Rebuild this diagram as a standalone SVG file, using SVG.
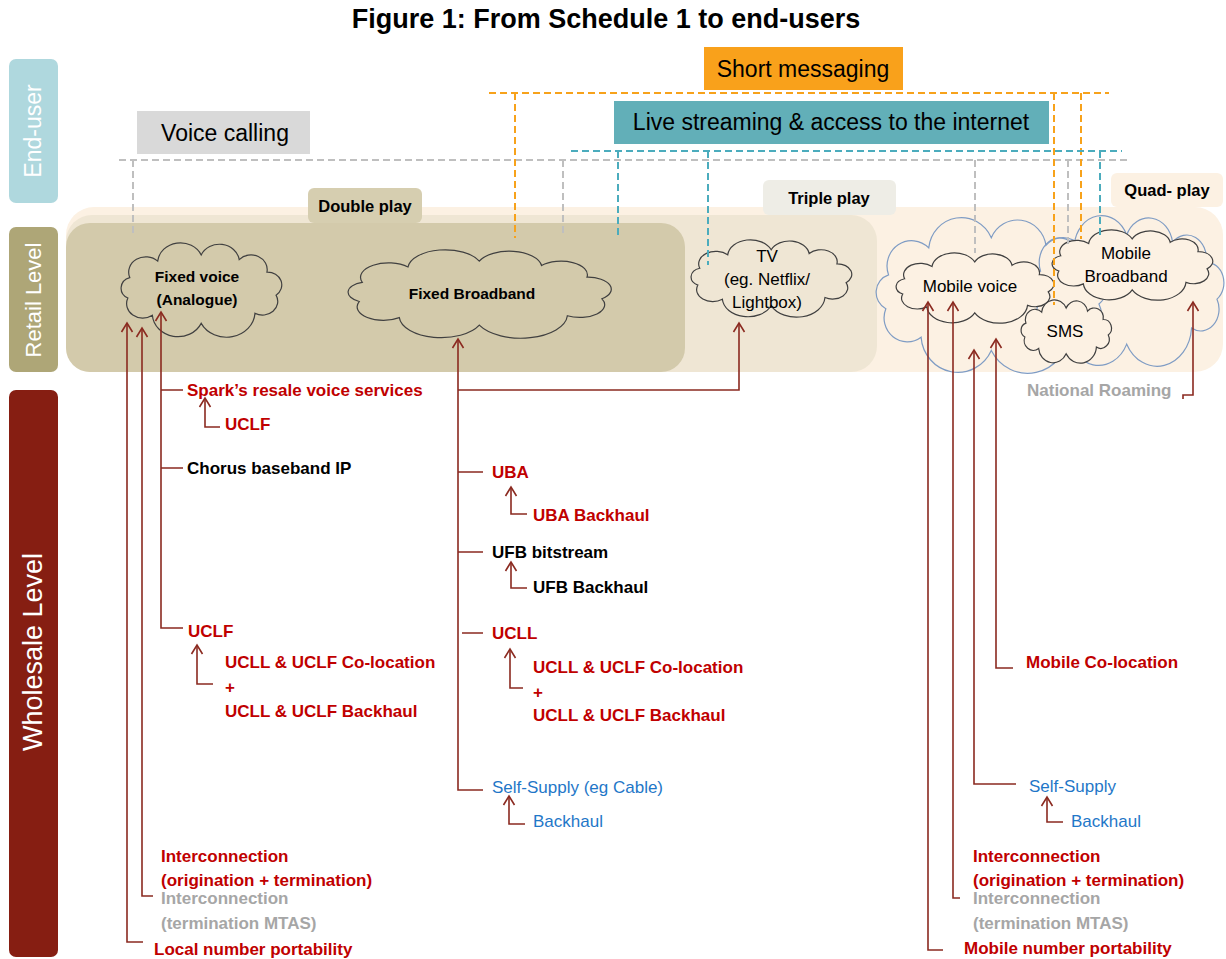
<svg xmlns="http://www.w3.org/2000/svg" width="1226" height="959" viewBox="0 0 1226 959">
<style>
text{font-family:"Liberation Sans",Arial,sans-serif;dominant-baseline:central}
.red{fill:#c00000;font-weight:bold;font-size:17px}
.blk{fill:#000;font-weight:bold;font-size:17px}
.blue{fill:#1f77c8;font-size:17px}
.gry{fill:#a6a6a6;font-weight:bold;font-size:17px}
.hdr{fill:#000;font-size:23px;text-anchor:middle}
.lbl{fill:#000;font-size:16.5px;font-weight:bold;text-anchor:middle}
.side{fill:#fff;text-anchor:middle}
.ct{fill:#000;font-size:17px;text-anchor:middle}
.ctb{fill:#000;font-size:15.5px;font-weight:bold;text-anchor:middle}
.cb{stroke:#404040;stroke-width:1.2}
.cblue{stroke:#7f9cc4;stroke-width:1.2;fill:none}
.conn{stroke:#8b2a20;stroke-width:1.6;fill:none}
.dg{stroke:#bfbfbf;stroke-width:2;stroke-dasharray:7 4;fill:none}
.do{stroke:#f7a21b;stroke-width:2;stroke-dasharray:7 4;fill:none}
.dt{stroke:#4bacbd;stroke-width:2;stroke-dasharray:7 4;fill:none}
</style>
<defs>
<path id="cloud" vector-effect="non-scaling-stroke" d="M12.4,23.2 A9,9 0 0 1 27.1,13.6 A12,12 0 0 1 50,10 A10.5,10.5 0 0 1 70,12.7 A8.5,8.5 0 0 1 84.6,20 A7.5,7.5 0 0 1 89.4,33.5 A8,8 0 0 1 78.3,44.1 A15,15 0 0 1 50,50 A13.5,13.5 0 0 1 24.3,45.3 A8.5,8.5 0 0 1 11.4,35.2 A6.5,6.5 0 0 1 12.4,23.2 Z"/>
<marker id="ah" markerUnits="userSpaceOnUse" viewBox="-10 -7 12 14" refX="0" refY="0" markerWidth="12" markerHeight="14" orient="auto" overflow="visible">
<path d="M-9,-5.5 L0,0 L-9,5.5" fill="none" stroke="#8b2a20" stroke-width="1.6"/>
</marker>
</defs>
<rect width="1226" height="959" fill="#fff"/>
<text x="606" y="19" text-anchor="middle" style="font-size:27px;font-weight:bold;fill:#000">Figure 1: From Schedule 1 to end-users</text>

<g id="bar-enduser"><rect x="9" y="59" width="49" height="144" rx="7" fill="#afd8de"/><text class="side" x="33" y="131" transform="rotate(-90 33 131)" style="font-size:23px">End-user</text></g>
<g id="bar-retail"><rect x="9" y="227" width="49" height="145" rx="7" fill="#aea677"/><text class="side" x="33" y="300" transform="rotate(-90 33 300)" style="font-size:22px">Retail Level</text></g>
<g id="bar-wholesale"><rect x="9" y="390" width="49" height="567" rx="7" fill="#861e12"/><text class="side" x="33" y="652" transform="rotate(-90 33 652)" style="font-size:27px">Wholesale Level</text></g>

<g id="panel-quad"><rect x="66" y="207" width="1157" height="165" rx="28" fill="#fcf1e3"/></g>
<g id="panel-triple"><rect x="66" y="215" width="811" height="157" rx="26" fill="#efe6d4"/></g>
<g id="panel-double"><rect x="66" y="223" width="619" height="149" rx="24" fill="#d3caab"/></g>
<g id="label-double"><rect x="308" y="188" width="114" height="35" rx="6" fill="#d6ceb0"/><text class="lbl" x="365" y="206">Double play</text></g>
<g id="label-triple"><rect x="763" y="180" width="133" height="35" rx="6" fill="#eeede6"/><text class="lbl" x="829" y="198">Triple play</text></g>
<g id="label-quad"><rect x="1111" y="173" width="112" height="34" rx="6" fill="#fcf1e3"/><text class="lbl" x="1167" y="190">Quad- play</text></g>

<g id="voice-calling"><rect x="137" y="111" width="173" height="43" fill="#d9d9d9"/><text class="hdr" x="225" y="133">Voice calling</text></g>
<g id="short-messaging"><rect x="704" y="47" width="199" height="43" fill="#f9a11b"/><text class="hdr" x="803" y="69">Short messaging</text></g>
<g id="live-streaming"><rect x="614" y="101" width="435" height="43" fill="#62afb8"/><text class="hdr" x="831" y="122">Live streaming &amp; access to the internet</text></g>

<g id="cloud-mobile-outer">
<use href="#cloud" class="cblue" transform="translate(854.7,209.5) scale(2.732,2.818)"/>
<use href="#cloud" class="cblue" transform="translate(1012.1,207.8) scale(2.292,2.727)"/>
</g>
<g id="cloud-fixed-voice"><use href="#cloud" class="cb" fill="#d3caab" transform="translate(106.2,237.9) scale(1.9,1.709)"/><text class="ctb" x="197" y="276">Fixed voice</text><text class="ctb" x="197" y="299">(Analogue)</text></g>
<g id="cloud-fixed-broadband"><use href="#cloud" class="cb" fill="#d3caab" transform="translate(323.7,245.2) scale(3.112,1.6)"/><text class="ctb" x="472" y="293">Fixed Broadband</text></g>
<g id="cloud-tv"><use href="#cloud" class="cb" fill="#efe6d4" transform="translate(676.2,235.8) scale(1.9,1.4)"/><text class="ct" x="767" y="256">TV</text><text class="ct" x="767" y="279">(eg. Netflix/</text><text class="ct" x="767" y="302">Lightbox)</text></g>
<g id="cloud-mobile-voice"><use href="#cloud" class="cb" fill="#fcf1e3" transform="translate(881.5,249.2) scale(1.865,1.273)"/><text class="ct" x="970" y="286">Mobile voice</text></g>
<g id="cloud-mobile-broadband"><use href="#cloud" class="cb" fill="#fcf1e3" transform="translate(1037.2,226.2) scale(1.9,1.273)"/><text class="ct" x="1126" y="253">Mobile</text><text class="ct" x="1126" y="276">Broadband</text></g>
<g id="cloud-sms"><use href="#cloud" class="cb" fill="#fcf1e3" transform="translate(1012.7,296.6) scale(1.069,1.145)"/><text class="ct" x="1065" y="331">SMS</text></g>

<g id="wholesale-labels">
<text class="red" x="187" y="390">Spark’s resale voice services</text>
<text class="red" x="225" y="424">UCLF</text>
<text class="blk" x="187" y="468">Chorus baseband IP</text>
<text class="red" x="188" y="631">UCLF</text>
<text class="red" x="225" y="662">UCLL &amp; UCLF Co-location</text>
<text class="red" x="225" y="687">+</text>
<text class="red" x="225" y="711">UCLL &amp; UCLF Backhaul</text>
<text class="red" x="161" y="856">Interconnection</text>
<text class="red" x="161" y="880">(origination + termination)</text>
<text class="gry" x="161" y="898">Interconnection</text>
<text class="gry" x="161" y="923">(termination MTAS)</text>
<text class="red" x="154" y="949">Local number portability</text>
<text class="red" x="492" y="472">UBA</text>
<text class="red" x="533" y="515">UBA Backhaul</text>
<text class="blk" x="492" y="552">UFB bitstream</text>
<text class="blk" x="533" y="587">UFB Backhaul</text>
<text class="red" x="492" y="633">UCLL</text>
<text class="red" x="533" y="667">UCLL &amp; UCLF Co-location</text>
<text class="red" x="533" y="692">+</text>
<text class="red" x="533" y="715">UCLL &amp; UCLF Backhaul</text>
<text class="blue" x="492" y="787">Self-Supply (eg Cable)</text>
<text class="blue" x="533" y="821">Backhaul</text>
<text class="gry" x="1027" y="390">National Roaming</text>
<text class="red" x="1026" y="662">Mobile Co-location</text>
<text class="blue" x="1029" y="786">Self-Supply</text>
<text class="blue" x="1071" y="821">Backhaul</text>
<text class="red" x="973" y="856">Interconnection</text>
<text class="red" x="973" y="880">(origination + termination)</text>
<text class="gry" x="973" y="898">Interconnection</text>
<text class="gry" x="973" y="923">(termination MTAS)</text>
<text class="red" x="964" y="948">Mobile number portability</text>
</g>

<g id="connectors">
<path class="dg" d="M119,160 H1130 M133,160 V237 M563,160 V233 M975,160 V253 M1068,160 V245"/>
<path class="do" d="M489,93 H1109 M515,93 V238 M1054,93 V305 M1081,93 V239"/>
<path class="dt" d="M571,151 H1122 M618,151 V237 M708,151 V265 M1100,151 V237"/>
<path class="conn" marker-end="url(#ah)" d="M143,942 H127 V323"/>
<path class="conn" marker-end="url(#ah)" d="M153,896 H142 V328"/>
<path class="conn" marker-end="url(#ah)" d="M183,628 H161 V312"/>
<path class="conn" d="M183,390 H161 M183,468 H161"/>
<path class="conn" marker-end="url(#ah)" d="M220,427 H205 V398"/>
<path class="conn" marker-end="url(#ah)" d="M213,684 H197 V645"/>
<path class="conn" marker-end="url(#ah)" d="M483,790 H458 V339"/>
<path class="conn" d="M483,472 H458 M483,552 H458 M483,633 H462"/>
<path class="conn" marker-end="url(#ah)" d="M458,390 H739 V323"/>
<path class="conn" marker-end="url(#ah)" d="M527,514 H511 V487"/>
<path class="conn" marker-end="url(#ah)" d="M527,588 H511 V562"/>
<path class="conn" marker-end="url(#ah)" d="M523,688 H510 V649"/>
<path class="conn" marker-end="url(#ah)" d="M525,824 H509 V796"/>
<path class="conn" marker-end="url(#ah)" d="M943,950 H928 V302"/>
<path class="conn" marker-end="url(#ah)" d="M960,898 H953 V302"/>
<path class="conn" marker-end="url(#ah)" d="M1016,784 H974 V350"/>
<path class="conn" marker-end="url(#ah)" d="M1013,668 H996 V339"/>
<path class="conn" marker-end="url(#ah)" d="M1063,822 H1047 V797"/>
<path class="conn" marker-end="url(#ah)" d="M1183,399 V395 H1193 V302"/>
</g>
</svg>
